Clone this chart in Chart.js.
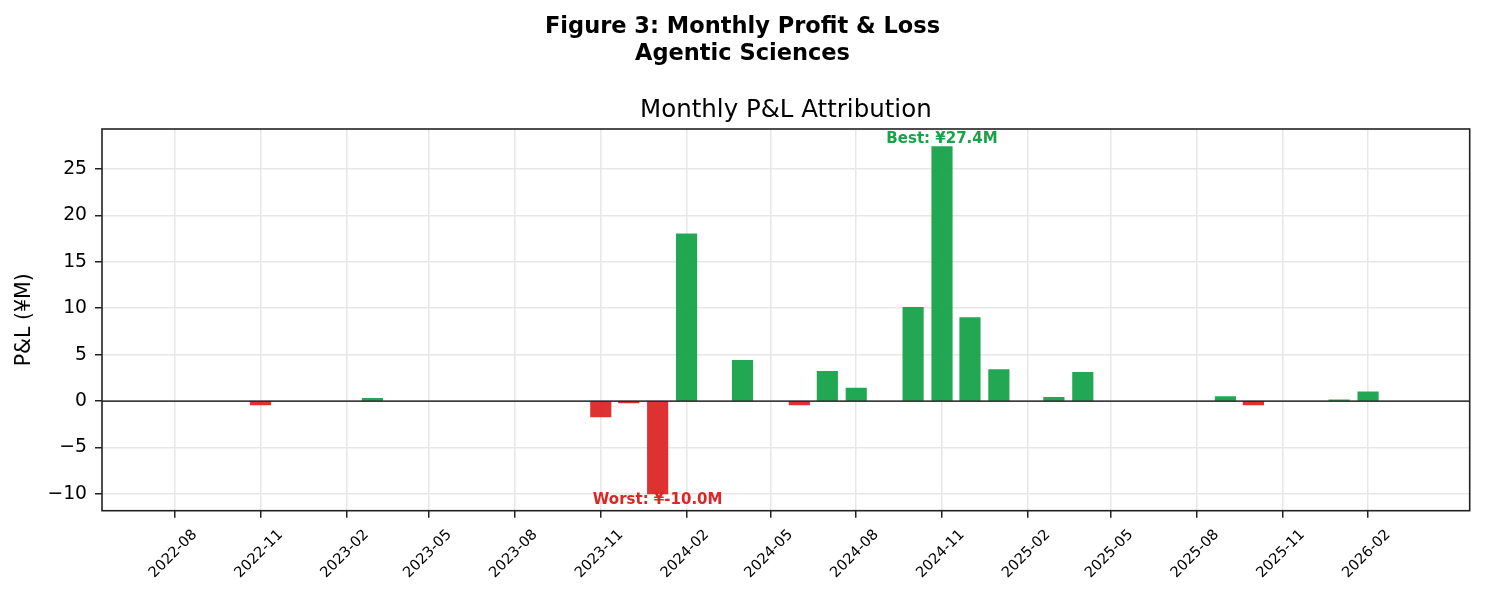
<!DOCTYPE html>
<html>
<head>
<meta charset="utf-8">
<script src="https://cdn.jsdelivr.net/npm/chart.js@4"></script>
<style>
  body { margin: 0; background: #fff; }
  canvas { display: block; }
</style>
</head>
<body>
<canvas id="pnl-chart" width="1485" height="595"></canvas>
<script>
const months = ['2022-11', '2023-03', '2023-11', '2023-12', '2024-01', '2024-02', '2024-04', '2024-06',
    '2024-07', '2024-08', '2024-10', '2024-11', '2024-12', '2025-01', '2025-03', '2025-04',
    '2025-09', '2025-10', '2026-01', '2026-02'];
const pnl = [-0.4, 0.3, -1.7, -0.2, -10.0, 18.0, 4.4, -0.4,
    3.2, 1.4, 10.1, 27.4, 9.0, 3.4, 0.4, 3.1,
    0.5, -0.4, 0.15, 1.0];
const tickMonths = ['2022-08', '2022-11', '2023-02', '2023-05', '2023-08', '2023-11', '2024-02', '2024-05',
    '2024-08', '2024-11', '2025-02', '2025-05', '2025-08', '2025-11', '2026-02'];
const yTicks = [-10, -5, 0, 5, 10, 15, 20, 25];

const GREEN = 'rgba(22, 163, 74, 0.95)';
const RED = 'rgba(220, 38, 38, 0.95)';
const FONT = '"DejaVu Sans", "Liberation Sans", sans-serif';

// day number for 'YYYY-MM' or 'YYYY-MM-DD'
function day(s) {
    const dd = s.length > 7 ? parseInt(s.slice(8)) : 1;
    return Date.UTC(parseInt(s.slice(0, 4)), parseInt(s.slice(5, 7)) - 1, dd) / 864e5;
}

function minus(v) {
    return v < 0 ? '\u2212' + Math.abs(v) : String(v);
}

const decor = {
    id: 'decor',
    afterDraw(chart) {
        const ctx = chart.ctx;
        const area = chart.chartArea;
        const xs = chart.scales.x;
        const ys = chart.scales.y;
        ctx.save();

        // zero line
        const y0 = ys.getPixelForValue(0);
        ctx.strokeStyle = '#000';
        ctx.lineWidth = 1.2;
        ctx.beginPath();
        ctx.moveTo(area.left, y0);
        ctx.lineTo(area.right, y0);
        ctx.stroke();

        // frame
        ctx.strokeStyle = '#222';
        ctx.lineWidth = 1.6;
        ctx.strokeRect(area.left, area.top, area.right - area.left, area.bottom - area.top);

        // best / worst labels
        let best = 0, worst = 0;
        pnl.forEach((v, i) => {
            if (v > pnl[best]) best = i;
            if (v < pnl[worst]) worst = i;
        });
        ctx.font = 'bold 15px ' + FONT;
        ctx.textAlign = 'center';
        ctx.fillStyle = '#16a34a';
        ctx.textBaseline = 'alphabetic';
        ctx.fillText('Best: ¥' + pnl[best].toFixed(1) + 'M',
            xs.getPixelForValue(day(months[best])), ys.getPixelForValue(pnl[best]) - 4);
        ctx.fillStyle = '#dc2626';
        ctx.textBaseline = 'top';
        ctx.fillText('Worst: ¥' + pnl[worst].toFixed(1) + 'M',
            xs.getPixelForValue(day(months[worst])), ys.getPixelForValue(pnl[worst]) - 1);

        // rotated date labels, centred under each tick
        ctx.fillStyle = '#000';
        ctx.font = '14.6px ' + FONT;
        ctx.textBaseline = 'middle';
        tickMonths.forEach(m => {
            ctx.save();
            ctx.translate(xs.getPixelForValue(day(m)) - 1.5, 554);
            ctx.rotate(-Math.PI / 4);
            ctx.fillText(m, 0, 0);
            ctx.restore();
        });

        // titles
        ctx.textBaseline = 'alphabetic';
        ctx.font = 'bold 22.5px ' + FONT;
        ctx.fillText('Figure 3: Monthly Profit & Loss', chart.width / 2, 33);
        ctx.fillText('Agentic Sciences', chart.width / 2, 60);
        ctx.font = '24.5px ' + FONT;
        ctx.fillText('Monthly P&L Attribution', (area.left + area.right) / 2, 117);

        ctx.restore();
    }
};

const gridOpts = {
    color: 'rgb(231, 231, 231)',
    lineWidth: 1.5,
    offset: false,
    drawTicks: true,
    tickLength: 7,
    tickColor: '#222',
    tickWidth: 1.5
};

new Chart(document.getElementById('pnl-chart'), {
    type: 'bar',
    data: {
        datasets: [{
            data: months.map((m, i) => ({ x: day(m), y: pnl[i] })),
            backgroundColor: pnl.map(v => v >= 0 ? GREEN : RED),
            borderWidth: 0,
            barThickness: 20.5
        }]
    },
    options: {
        responsive: false,
        animation: false,
        layout: { padding: { top: 129, right: 15.3, left: 0, bottom: 0 } },
        plugins: {
            legend: { display: false },
            tooltip: { enabled: false },
            title: { display: false }
        },
        scales: {
            x: {
                type: 'linear',
                offset: false,
                min: day('2022-05-15'),
                max: day('2026-05-21'),
                afterBuildTicks: scale => { scale.ticks = tickMonths.map(m => ({ value: day(m) })); },
                afterFit: scale => { scale.height = 84.3; },
                ticks: { display: false },
                grid: gridOpts,
                border: { display: false }
            },
            y: {
                min: -11.8,
                max: 29.3,
                afterBuildTicks: scale => { scale.ticks = yTicks.map(v => ({ value: v })); },
                afterFit: scale => { scale.width = 102; },
                ticks: {
                    color: '#000',
                    padding: 8,
                    font: { family: FONT, size: 18.75 },
                    callback: v => minus(v)
                },
                grid: gridOpts,
                border: { display: false },
                title: {
                    display: true,
                    text: 'P&L (¥M)',
                    color: '#000',
                    font: { family: FONT, size: 20.5 },
                    padding: { top: 12, bottom: 0 }
                }
            }
        }
    },
    plugins: [decor]
});
</script>
</body>
</html>
